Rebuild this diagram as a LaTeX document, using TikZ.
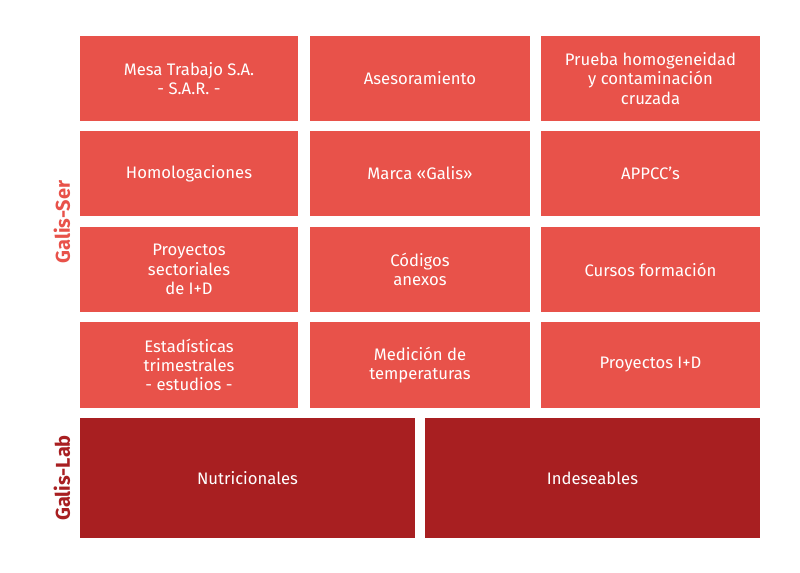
\documentclass[tikz,border=0pt]{standalone}
\usepackage{fontspec}
\setmainfont{Fira Sans}
\definecolor{lr}{HTML}{E8524A}
\definecolor{dr}{HTML}{A81F21}
\begin{document}
\begin{tikzpicture}[x=0.75pt,y=-0.75pt,
  cell/.style={fill=lr,text=white,align=center,inner sep=0pt,font=\fontsize{12.5}{14.5}\selectfont},
  dcell/.style={fill=dr,text=white,align=center,inner sep=0pt,font=\fontsize{12.5}{14.5}\selectfont},
  side/.style={text=#1,rotate=90,font=\bfseries\fontsize{15}{17}\selectfont}]
\useasboundingbox (0,0) rectangle (800,573);
\def\cellbox#1#2#3#4#5#6{\fill[lr] (#2,#3) rectangle (#4,#5); \node[cell] (#1) at ({(#2+#4)/2},{(#3+#5)/2}) {#6};}
\cellbox{a1}{80}{36}{298}{121}{Mesa Trabajo S.A.\\- S.A.R. -}
\cellbox{a2}{310}{36}{530}{121}{Asesoramiento}
\cellbox{a3}{541}{36}{760}{121}{Prueba homogeneidad\\y contaminación\\cruzada}
\cellbox{b1}{80}{131}{298}{216}{Homologaciones}
\cellbox{b2}{310}{131}{530}{216}{Marca «Galis»}
\cellbox{b3}{541}{131}{760}{216}{APPCC’s}
\cellbox{c1}{80}{227}{298}{312}{Proyectos\\sectoriales\\de I+D}
\cellbox{c2}{310}{227}{530}{312}{Códigos\\anexos}
\cellbox{c3}{541}{227}{760}{312}{Cursos formación}
\cellbox{d1}{80}{322}{298}{408}{Estadísticas\\trimestrales\\- estudios -}
\cellbox{d2}{310}{322}{530}{408}{Medición de\\temperaturas}
\cellbox{d3}{541}{322}{760}{408}{Proyectos I+D}
\fill[dr] (80,418) rectangle (415,538); \node[dcell] (e1) at (247.5,478) {Nutricionales};
\fill[dr] (425,418) rectangle (760,538); \node[dcell] (e2) at (592.5,478) {Indeseables};
\node[side=lr] (gs) at (62,222) {Galis-Ser};
\node[side=dr] (gl) at (62,478) {Galis-Lab};
\end{tikzpicture}
\end{document}
